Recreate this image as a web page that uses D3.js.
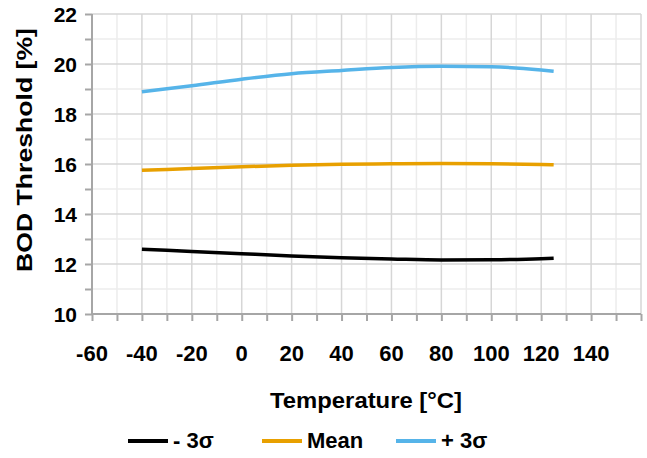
<!DOCTYPE html>
<html><head><meta charset="utf-8">
<script src="https://cdn.jsdelivr.net/npm/d3@7"></script>
<style>body{margin:0;background:#fff}svg{display:block}text{font-family:"Liberation Sans",Arial,sans-serif;font-weight:bold;fill:#000}</style>
</head><body>
<svg id="c" width="647" height="458"></svg>
<script>
const temps = [-40, -20, 0, 20, 40, 60, 80, 100, 120, 125];
const minus3s = [12.59, 12.50, 12.41, 12.32, 12.25, 12.20, 12.16, 12.17, 12.21, 12.23];
const meanVals = [15.75, 15.82, 15.89, 15.95, 15.99, 16.01, 16.02, 16.01, 15.98, 15.97];
const plus3s = [18.89, 19.13, 19.39, 19.61, 19.74, 19.86, 19.91, 19.89, 19.76, 19.71];
const seriesNames = ["- 3σ", "Mean", "+ 3σ"];
const seriesColors = ["#000000", "#E8A000", "#56B4E9"];
const xTicks = [-60, -40, -20, 0, 20, 40, 60, 80, 100, 120, 140];
const yTicks = [10, 12, 14, 16, 18, 20, 22];

const svg = d3.select("#c");
const L = 92, R = 641, T = 14, B = 314;
const x = d3.scaleLinear().domain([-60, 160]).range([L, R]);
const y = d3.scaleLinear().domain([10, 22]).range([B, T]);

// minor grid
const g = svg.append("g");
g.selectAll(".vx").data(d3.range(-50, 160, 20)).enter().append("line")
  .attr("x1", d => x(d)).attr("x2", d => x(d)).attr("y1", T).attr("y2", B)
  .attr("stroke", "#ececec").attr("stroke-width", 1.5);
g.selectAll(".hy").data(d3.range(11, 22, 2)).enter().append("line")
  .attr("y1", d => y(d)).attr("y2", d => y(d)).attr("x1", L).attr("x2", R)
  .attr("stroke", "#ececec").attr("stroke-width", 1.5);
// major grid
g.selectAll(".vxm").data(d3.range(-40, 161, 20)).enter().append("line")
  .attr("x1", d => x(d)).attr("x2", d => x(d)).attr("y1", T).attr("y2", B)
  .attr("stroke", "#d6d6d6").attr("stroke-width", 1.5);
g.selectAll(".hym").data(d3.range(12, 23, 2)).enter().append("line")
  .attr("y1", d => y(d)).attr("y2", d => y(d)).attr("x1", L).attr("x2", R)
  .attr("stroke", "#d6d6d6").attr("stroke-width", 1.5);

// axes
const axisColor = "#a6a6a6";
const xa = svg.append("g").attr("transform", `translate(0,${B})`)
  .call(d3.axisBottom(x).tickValues(d3.range(-60, 161, 10)).tickSize(7).tickFormat(""));
const ya = svg.append("g").attr("transform", `translate(${L},0)`)
  .call(d3.axisLeft(y).tickValues(d3.range(10, 23, 1)).tickSize(7).tickFormat(""));
[xa, ya].forEach(a => {
  a.select(".domain").attr("stroke", axisColor).attr("stroke-width", 2);
  a.selectAll(".tick line").attr("stroke", axisColor).attr("stroke-width", 2);
});
xa.select(".domain").attr("d", `M${L},0H${R}`);
ya.select(".domain").attr("d", `M0,${B}V${T}`);

// tick labels
svg.append("g").selectAll("text").data(xTicks).enter().append("text")
  .attr("x", d => x(d)).attr("y", 361).attr("text-anchor", "middle")
  .attr("font-size", 22).text(d => d);
svg.append("g").selectAll("text").data(yTicks).enter().append("text")
  .attr("x", 77).attr("y", d => y(d) + 7.5).attr("text-anchor", "end")
  .attr("font-size", 21).text(d => d);

// titles
svg.append("text").attr("x", 270).attr("y", 408)
  .attr("font-size", 21.5).attr("textLength", 192).attr("lengthAdjust", "spacingAndGlyphs")
  .text("Temperature [°C]");
svg.append("text").attr("transform", `translate(32,272) rotate(-90)`)
  .attr("font-size", 21.5).attr("textLength", 244).attr("lengthAdjust", "spacingAndGlyphs")
  .text("BOD Threshold [%]");

// lines
const series = [minus3s, meanVals, plus3s];
const line = d3.line().x((d, i) => x(temps[i])).y(d => y(d)).curve(d3.curveMonotoneX);
svg.append("g").selectAll("path").data(series).enter().append("path")
  .attr("d", line).attr("fill", "none")
  .attr("stroke", (d, i) => seriesColors[i]).attr("stroke-width", 3.5);

// legend
const lx = [128, 262, 396];
const lg = svg.append("g").selectAll("g").data(seriesNames).enter().append("g");
lg.append("line").attr("x1", (d, i) => lx[i]).attr("x2", (d, i) => lx[i] + 40)
  .attr("y1", 441).attr("y2", 441).attr("stroke", (d, i) => seriesColors[i]).attr("stroke-width", 4);
lg.append("text").attr("x", (d, i) => lx[i] + 45).attr("y", 448)
  .attr("font-size", 22).text(d => d);
</script>
</body></html>
